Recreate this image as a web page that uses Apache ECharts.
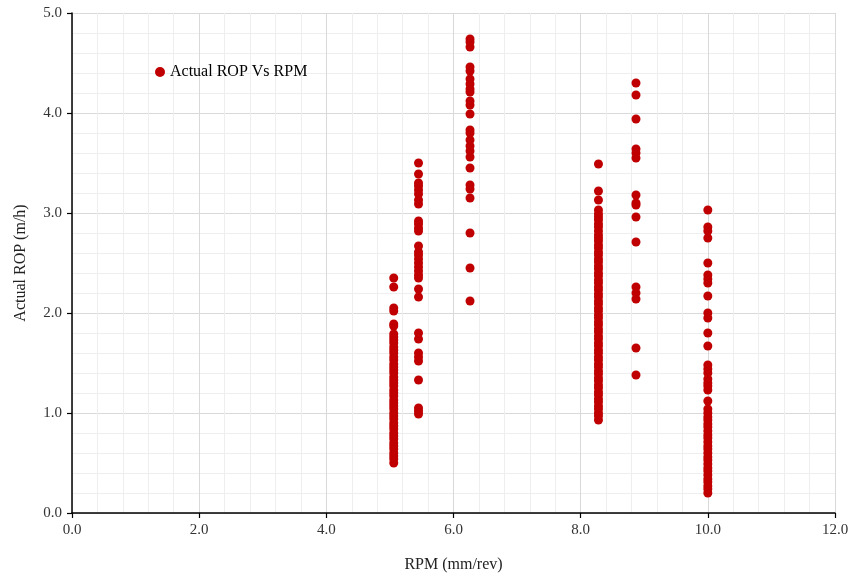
<!DOCTYPE html>
<html>
<head>
<meta charset="utf-8">
<script src="https://cdn.jsdelivr.net/npm/echarts@6/dist/echarts.min.js"></script>
<style>
  html, body { margin: 0; padding: 0; background: #fff; }
  #chart { width: 854px; height: 581px; }
</style>
</head>
<body>
<div id="chart"></div>
<script>
// RPM setting for each column of measurements
const rpmLevels = [5.06, 5.45, 6.26, 8.28, 8.87, 10.0];

// Actual ROP (m/h) recorded at each RPM setting
const ropAt506 = [2.35, 2.26, 2.05, 2.02, 1.89, 1.87, 1.79, 1.76, 1.73, 1.70, 1.66, 1.63, 1.60, 1.56,
  1.53, 1.49, 1.46, 1.43, 1.40, 1.36, 1.33, 1.30, 1.27, 1.23, 1.20, 1.17, 1.13, 1.10, 1.07, 1.04,
  1.00, 0.97, 0.94, 0.90, 0.87, 0.84, 0.80, 0.77, 0.74, 0.70, 0.67, 0.64, 0.60, 0.57, 0.54, 0.50];
const ropAt545 = [3.50, 3.39, 3.30, 3.27, 3.23, 3.19, 3.13, 3.09, 2.92, 2.89, 2.85, 2.82, 2.67, 2.61,
  2.58, 2.54, 2.50, 2.46, 2.42, 2.38, 2.35, 2.24, 2.16, 1.80, 1.74, 1.60, 1.56, 1.52, 1.33, 1.05,
  1.02, 0.99];
const ropAt626 = [4.74, 4.71, 4.66, 4.46, 4.42, 4.34, 4.29, 4.24, 4.21, 4.12, 4.08, 3.99, 3.83, 3.80,
  3.73, 3.67, 3.62, 3.56, 3.45, 3.28, 3.24, 3.15, 2.80, 2.45, 2.12];
const ropAt828 = [3.49, 3.22, 3.13, 3.03, 2.99, 2.96, 2.93, 2.89, 2.86, 2.82, 2.78, 2.75, 2.72, 2.68,
  2.65, 2.61, 2.58, 2.54, 2.51, 2.47, 2.44, 2.40, 2.37, 2.33, 2.30, 2.26, 2.23, 2.19, 2.16, 2.12,
  2.09, 2.05, 2.02, 1.98, 1.95, 1.91, 1.88, 1.84, 1.81, 1.77, 1.74, 1.70, 1.67, 1.63, 1.60, 1.56,
  1.53, 1.49, 1.46, 1.42, 1.39, 1.35, 1.32, 1.28, 1.25, 1.21, 1.18, 1.14, 1.11, 1.07, 1.04, 1.00,
  0.97, 0.93];
const ropAt887 = [4.30, 4.18, 3.94, 3.64, 3.60, 3.55, 3.18, 3.10, 3.08, 2.96, 2.71, 2.26, 2.20, 2.14,
  1.65, 1.38];
const ropAt1000 = [3.03, 2.86, 2.82, 2.75, 2.50, 2.38, 2.34, 2.30, 2.17, 2.00, 1.95, 1.80, 1.67,
  1.48, 1.44, 1.40, 1.34, 1.30, 1.27, 1.23, 1.12, 1.04, 1.00, 0.96, 0.93, 0.89, 0.86, 0.82, 0.78,
  0.75, 0.71, 0.67, 0.64, 0.60, 0.56, 0.53, 0.49, 0.45, 0.42, 0.38, 0.34, 0.31, 0.27, 0.24, 0.20];

const ropColumns = [ropAt506, ropAt545, ropAt626, ropAt828, ropAt887, ropAt1000];

// Axis tick settings
const xTicks = { min: 0, max: 12, interval: 2 };
const yTicks = { min: 0, max: 5, interval: 1 };

const points = [];
rpmLevels.forEach((rpm, i) => {
  ropColumns[i].forEach(v => points.push([rpm, v]));
});

const serif = '"Liberation Serif", "Times New Roman", serif';
const chart = echarts.init(document.getElementById('chart'));

chart.setOption({
  animation: false,
  backgroundColor: '#ffffff',
  grid: { left: 72, right: 19, top: 13, bottom: 68, containLabel: false },
  legend: {
    data: ['Actual ROP Vs RPM'],
    left: 150,
    top: 59,
    icon: 'circle',
    itemWidth: 10,
    itemHeight: 10,
    itemGap: 4,
    textStyle: { fontFamily: serif, fontSize: 16, color: '#000' }
  },
  xAxis: {
    type: 'value',
    min: xTicks.min,
    max: xTicks.max,
    interval: xTicks.interval,
    name: 'RPM (mm/rev)',
    nameLocation: 'middle',
    nameGap: 44,
    nameTextStyle: { fontFamily: serif, fontSize: 16, color: '#222' },
    axisLine: { show: true, onZero: false, lineStyle: { color: '#000', width: 1.5 } },
    axisTick: { show: true, length: 5, lineStyle: { color: '#000', width: 1.2 } },
    axisLabel: {
      fontFamily: serif, fontSize: 15, color: '#333', margin: 10,
      formatter: v => v.toFixed(1)
    },
    splitLine: { show: true, lineStyle: { color: '#d9d9d9', width: 1 } },
    minorTick: { show: false, splitNumber: 5 },
    minorSplitLine: { show: true, lineStyle: { color: '#eeeeee', width: 1 } }
  },
  yAxis: {
    type: 'value',
    min: yTicks.min,
    max: yTicks.max,
    interval: yTicks.interval,
    name: 'Actual ROP (m/h)',
    nameLocation: 'middle',
    nameGap: 43,
    nameTextStyle: { fontFamily: serif, fontSize: 16, color: '#222' },
    axisLine: { show: true, onZero: false, lineStyle: { color: '#000', width: 1.5 } },
    axisTick: { show: true, length: 5, lineStyle: { color: '#000', width: 1.2 } },
    axisLabel: {
      fontFamily: serif, fontSize: 15, color: '#333', margin: 10,
      formatter: v => v.toFixed(1)
    },
    splitLine: { show: true, lineStyle: { color: '#d9d9d9', width: 1 } },
    minorTick: { show: false, splitNumber: 5 },
    minorSplitLine: { show: true, lineStyle: { color: '#eeeeee', width: 1 } }
  },
  series: [{
    name: 'Actual ROP Vs RPM',
    type: 'scatter',
    symbol: 'circle',
    symbolSize: 9,
    itemStyle: { color: '#c00000', opacity: 1 },
    data: points
  }]
});
</script>
</body>
</html>
